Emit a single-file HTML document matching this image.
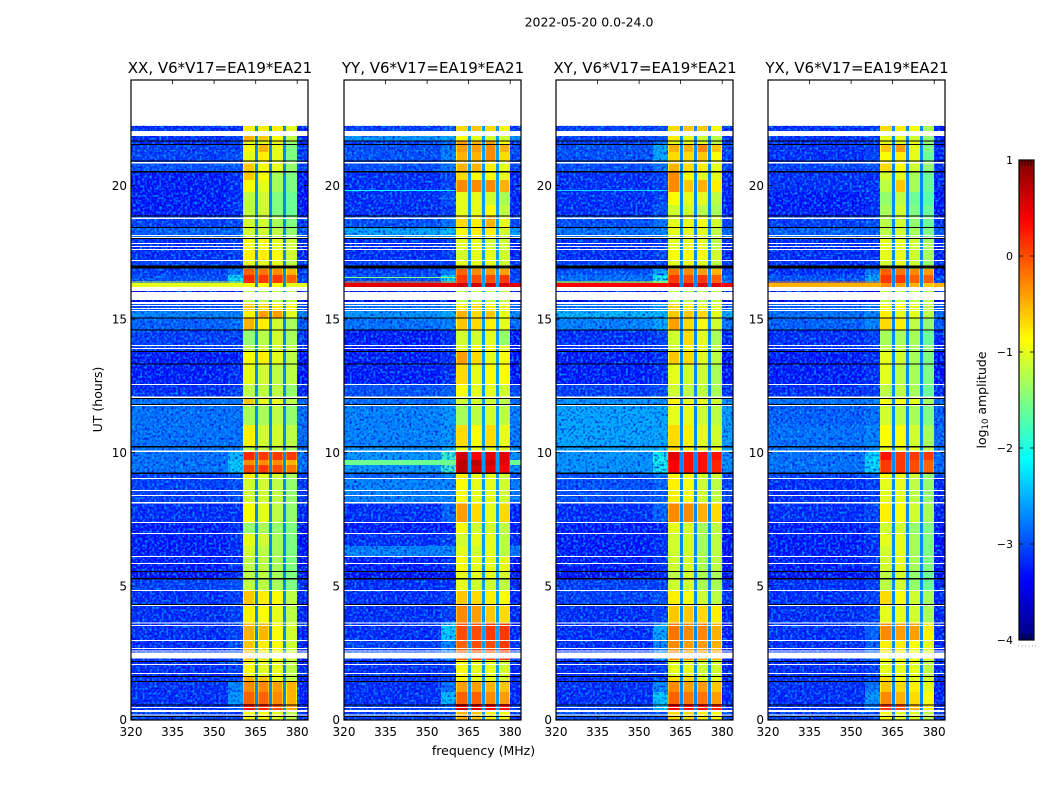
<!DOCTYPE html>
<html>
<head>
<meta charset="utf-8">
<title>2022-05-20 0.0-24.0</title>
<style>
html,body{margin:0;padding:0;background:#fff;}
#chart{display:block;width:1050px;height:800px;background:#fff;}
text{font-family:"DejaVu Sans","Liberation Sans",sans-serif;fill:#000;}
</style>
</head>
<body>
<svg id="chart" xmlns="http://www.w3.org/2000/svg" width="1050" height="800" viewBox="0 0 1050 800">
<defs>
<filter id="grainLight" x="0" y="0" width="100%" height="100%" color-interpolation-filters="sRGB">
<feTurbulence type="fractalNoise" baseFrequency="0.42" numOctaves="1" seed="4"/>
<feColorMatrix type="matrix" values="0 0 0 0 0  0 0 0 0 0.72  0 0 0 0 1  3.2 0 0 0 -1.45"/>
</filter>
<filter id="grainDark" x="0" y="0" width="100%" height="100%" color-interpolation-filters="sRGB">
<feTurbulence type="fractalNoise" baseFrequency="0.42" numOctaves="1" seed="11"/>
<feColorMatrix type="matrix" values="0 0 0 0 0  0 0 0 0 0  0 0 0 0 0.85  3.2 0 0 0 -1.45"/>
</filter>
<linearGradient id="colorbarGradient" x1="0" y1="1" x2="0" y2="0"></linearGradient>
</defs>
<text x="589" y="26.5" font-size="12.5" text-anchor="middle">2022-05-20 0.0-24.0</text>
<text x="483.5" y="755" font-size="12.5" text-anchor="middle">frequency (MHz)</text>
<text x="102" y="399.5" font-size="12.5" text-anchor="middle" transform="rotate(-90 102 399.5)">UT (hours)</text>
<g id="panels"></g>
<g id="colorbar"></g>
<text x="986" y="400" font-size="12.5" text-anchor="middle" transform="rotate(-90 986 400)">log<tspan font-size="8.5" dy="2">10</tspan><tspan dy="-2"> amplitude</tspan></text>
</svg>
<script>
// Time-block edges in UT hours, top to bottom
const blockEdges = [22.23,21.85,21.67,21.52,21.25,20.92,20.54,20.21,19.76,19.27,18.86,18.45,18.03,17.58,17.17,16.87,16.65,16.35,16.20,15.64,15.34,15.04,14.59,14.03,13.76,13.31,12.57,12.04,11.78,11.03,10.24,10.02,9.72,9.53,9.23,9.01,8.11,7.40,6.95,6.50,6.12,5.56,5.26,4.85,4.29,3.61,2.98,2.23,1.63,1.44,1.03,0.58,0.28,0];
// log10 amplitude per block: [background, near-band ramp, band1, band2, band3, band4]
const xxLevels = [[-3,-3,-.8,-.8,-.8,-1],[-3,-2.9,-.5,-.6,-.9,-1.2],[-3,-2.9,-1,-1,-1,-1.4],[-2.9,-2.9,-.9,-.5,-1,-1.5],[-2.9,-2.8,-1,-.8,-1,-1.5],[-2.8,-2.8,-.6,-.9,-1,-1.4],[-3.1,-3,-.6,-.9,-1.3,-1.5],[-3.1,-3,-.9,-1,-1.3,-1.5],[-3.1,-3,-1.2,-1.1,-1.5,-1.6],[-3.1,-3,-1.2,-1.1,-1.5,-1.6],[-2.9,-2.8,-1.1,-1.1,-1.3,-1.5],[-2.7,-2.7,-1.1,-1.1,-1.2,-1.4],[-3,-2.9,-.9,-.9,-1,-1.1],[-3,-2.9,-.8,-.8,-.9,-1.1],[-2.9,-2.9,-1,-1,-1,-1.2],[-2.9,-2.6,-.1,-.2,-.3,-.5],[-2.8,-2,.2,.1,.1,-.1],[-1,-1,-.9,-.9,-.9,-1],[-3.3,-3.3,-1.2,-1.2,-1.2,-1.2],[-2.8,-2.7,-.6,-.7,-.8,-.9],[-2.5,-2.5,-.8,-.4,-.4,-1],[-2.7,-2.6,-.5,-.8,-1.1,-1.3],[-2.9,-2.9,-1.4,-1.2,-1.1,-1.3],[-2.9,-2.9,-1.2,-1.1,-1.1,-1.2],[-3.1,-3.1,-.9,-.8,-1,-1.2],[-3.1,-3,-1,-1.1,-1.2,-1.2],[-3,-2.9,-1.2,-1.2,-1.2,-1.4],[-2.6,-2.6,-.6,-1,-1,-1.2],[-2.6,-2.6,-1.3,-1.3,-1.2,-1.4],[-2.6,-2.6,-.8,-1.1,-1.1,-1.2],[-2.6,-2.5,-1.2,-1.2,-1.2,-1.3],[-2.6,-2.2,.2,.1,.1,.1],[-2.6,-2.1,-.3,-.3,-.3,-.5],[-2.6,-2.1,.05,.1,0,-.2],[-2.9,-2.7,-.8,-1,-1.1,-1.3],[-2.9,-2.8,-1.1,-1.1,-1.2,-1.4],[-3,-3,-.9,-1,-1.2,-1.4],[-3.1,-3,-1.4,-1.3,-1.4,-1.5],[-3.1,-3,-1,-1.1,-1.3,-1.5],[-3.1,-3,-1.1,-1.2,-1.3,-1.5],[-3.1,-3,-1.2,-1.2,-1.3,-1.5],[-3.2,-3,-1.2,-1.2,-1.3,-1.5],[-2.9,-2.8,-1.2,-1.2,-1.3,-1.5],[-3,-2.9,-.6,-.8,-.9,-1.2],[-3,-2.9,-.8,-.9,-1,-1.2],[-3,-2.9,-.5,-.5,-.9,-1.1],[-3,-2.8,-.6,-.8,-.9,-1.1],[-3,-2.9,-.9,-1,-1,-1.2],[-3,-2.9,-.5,-.6,-1,-1.2],[-3,-2.5,-.3,-.3,-.4,-.5],[-3,-2.4,-.1,-.1,-.3,-.5],[-3,-2.7,.3,.2,0,-.4],[-2.9,-2.9,-.9,-.9,-1,-1.2]];
const yyLevels = [[-2.9,-2.8,-.7,-.6,-.7,-.9],[-2.4,-2.3,-.9,-1,-1.1,-1.1],[-2.9,-2.7,-.4,-.5,-.4,-.9],[-2.8,-2.6,-.4,-.4,-.3,-.5],[-2.8,-2.5,-.5,-.5,-.3,-.7],[-2.8,-2.6,-.5,-.5,-.8,-1],[-3,-2.9,-.7,-.9,-.9,-1],[-3,-2.9,-.3,-.3,-.3,-.5],[-3,-2.8,-1,-1,-1.1,-1.3],[-3,-2.9,-1,-1,-.9,-1.2],[-2.8,-2.6,-.7,-.8,-.5,-1],[-2.3,-2.2,-.9,-.8,-.8,-1.1],[-3,-2.9,-1,-1,-1.1,-1.1],[-3,-2.9,-1.1,-1,-1,-1.1],[-2.9,-2.9,-1,-1,-1,-1.1],[-2.9,-2.5,-.1,-.3,-.4,-.4],[-2.8,-2,.1,0,0,.1],[.5,.5,.6,.6,.6,.6],[-3.3,-3.3,-1.2,-1.2,-1.2,-1.2],[-2.6,-2.5,-.8,-.7,-.8,-.9],[-2.4,-2.3,-.5,-.7,-.6,-1],[-2.6,-2.5,-.6,-.7,-.8,-1],[-3.1,-3,-1.1,-1.1,-1,-1.4],[-3.1,-3,-1,-.9,-.9,-1],[-3.1,-3,-.4,-.7,-1,-.9],[-3.1,-3,-.7,-1,-.9,-.9],[-2.8,-2.7,-.9,-1,-1,-1.1],[-2.6,-2.5,-1.1,-1.1,-1.1,-1.2],[-2.5,-2.4,-1.3,-1.2,-1.1,-1.2],[-2.5,-2.4,-.7,-.9,-.7,-1],[-2.4,-2.2,-1,-1,-1,-1],[-2.4,-1.6,.6,.4,.5,.5],[-1.6,-1.3,.7,.7,.6,.5],[-2.4,-1.6,.7,.6,.5,.4],[-2.7,-2.5,-.8,-1,-1,-1.1],[-2.5,-2.5,-.9,-1,-1,-1.1],[-3,-2.7,-.4,-.7,-1,-.7],[-3.1,-3.1,-.9,-1.1,-1.1,-1.2],[-3,-2.9,-1.1,-1,-1,-1.2],[-2.5,-2.5,-1,-1.1,-1,-1.2],[-3.1,-3,-.9,-1,-1,-1],[-3.2,-3.1,-1,-1,-1,-1.1],[-3,-3,-1,-1.1,-1.1,-1.2],[-3,-2.9,-.6,-.7,-.8,-.9],[-3,-2.9,-.3,-.4,-.6,-.7],[-3,-2.1,0,0,.1,.1],[-2.9,-2.5,-.1,0,0,.1],[-3,-2.9,-.9,-1,-1,-1.1],[-3,-2.9,-.9,-1,-1,-1.1],[-3,-2.6,-.4,-.4,-.5,-.6],[-3,-2.2,-.1,-.1,-.3,-.4],[-2.9,-2.7,.6,.5,.4,.3],[-2.9,-2.8,-.5,-.6,-.8,-.9]];
const xyLevels = [[-2.9,-2.8,-.7,-.6,-.6,-.9],[-2.9,-2.8,-.8,-1,-1.1,-1.2],[-2.9,-2.6,-1,-1,-1,-1.2],[-2.8,-2.3,-.5,-.5,-.3,-.6],[-2.8,-2.3,-.7,-.7,-.6,-.9],[-2.8,-2.6,-.5,-.7,-.8,-1],[-3,-2.9,-.3,-.9,-1,-1],[-3,-2.9,-.3,-.6,-.5,-.8],[-3,-2.9,-.9,-1,-1,-1.2],[-3,-2.8,-1.1,-1.1,-1.2,-1.3],[-2.8,-2.6,-1,-1,-.9,-1.1],[-2.6,-2.5,-1,-1,-1,-1.2],[-3,-2.9,-1,-1,-1,-1.2],[-3,-2.9,-.9,-.9,-.9,-1.1],[-2.9,-2.9,-1,-1,-1,-1.2],[-2.8,-2.3,-.2,-.3,-.4,-.5],[-2.6,-1.8,.1,0,.1,-.1],[.4,.4,.5,.5,.5,.5],[-3.3,-3.3,-1.2,-1.2,-1.2,-1.2],[-2.6,-2.3,-.7,-.8,-1,-1],[-2.2,-2.2,-.6,-.6,-.7,-1],[-2.5,-2.3,-.4,-.7,-.9,-1.1],[-3,-2.9,-1.1,-.7,-1,-1.3],[-3,-2.9,-1.1,-.9,-1,-1.2],[-3.1,-3,-.6,-.7,-1,-1.2],[-3.1,-3,-1,-1.1,-1.1,-1.3],[-2.9,-2.8,-1.1,-1.2,-1.2,-1.3],[-2.4,-2.4,-.8,-1,-1,-1.1],[-2.3,-2.3,-1,-1,-1.1,-1.2],[-2.3,-2.3,-.7,-.8,-1,-1.1],[-2.3,-2.2,-.7,-.8,-1,-1],[-2.4,-1.8,.5,.3,.3,.3],[-2.4,-1.8,.4,.3,.3,.2],[-2.4,-1.8,.4,.3,.3,.2],[-2.8,-2.5,-.8,-.9,-1.1,-1.1],[-2.8,-2.7,-.8,-.9,-1.1,-1.2],[-3,-2.7,-.3,-.3,-.5,-.7],[-3.1,-3.1,-1,-1.1,-1.3,-1.2],[-3.1,-3,-1.1,-1.1,-1.3,-1.2],[-3.1,-3,-1.1,-1.1,-1.3,-1.2],[-3.1,-3,-1.1,-1.1,-1.3,-1.2],[-3.2,-3.1,-1.2,-1.1,-1.3,-1.3],[-2.9,-2.9,-1.1,-1.1,-1.3,-1.3],[-2.9,-2.8,-.8,-.9,-1.1,-1.2],[-3,-2.9,-.6,-.6,-.7,-.8],[-3,-2.3,-.2,-.3,-.3,-.5],[-3,-2.5,-.3,-.4,-.4,-.5],[-3,-2.9,-1,-1,-1.1,-1.1],[-3,-2.9,-.7,-.7,-1,-1],[-3,-2.5,-.3,-.4,-.4,-.6],[-3,-2.1,-.1,-.2,-.2,-.4],[-2.9,-2.1,.4,.3,.3,.2],[-2.8,-2.8,-.7,-.7,-.8,-.9]];
const yxLevels = [[-3,-2.9,-.7,-.8,-.9,-1.3],[-3,-2.9,-1,-1,-1.1,-1.4],[-3,-2.9,-1,-1,-1,-1.4],[-3,-2.9,-.6,-.4,-1,-1.5],[-3,-2.9,-.9,-.8,-1,-1.6],[-2.9,-2.8,-.7,-.9,-1.1,-1.4],[-3,-3,-1.1,-1,-1.3,-1.6],[-3,-3,-1.2,-.6,-1.3,-1.6],[-3.1,-3,-1.4,-1.2,-1.6,-1.7],[-3.1,-3,-1.3,-1.1,-1.5,-1.6],[-2.9,-2.8,-1.2,-1.1,-1.4,-1.6],[-2.7,-2.7,-1.2,-1.1,-1.3,-1.5],[-3,-3,-1,-1,-1.1,-1.3],[-3,-3,-1,-1,-1.1,-1.3],[-3,-2.9,-1.1,-1,-1.1,-1.4],[-3,-2.6,-.1,-.2,-.3,-.4],[-2.8,-2.3,.1,.1,-.1,-.1],[-.5,-.5,-.3,-.4,-.5,-.6],[-3.3,-3.3,-1.2,-1.2,-1.2,-1.2],[-2.7,-2.5,-.9,-.9,-1,-1.2],[-2.6,-2.5,-.8,-1,-1,-1.2],[-2.7,-2.5,-.7,-.8,-1.2,-1.4],[-3,-2.9,-1.3,-1.3,-1.3,-1.6],[-3,-2.9,-1.2,-1.2,-1.3,-1.4],[-3.1,-3,-1,-1.1,-1.3,-1.5],[-3.1,-3,-1,-1.2,-1.3,-1.5],[-3,-2.9,-1.2,-1.2,-1.3,-1.6],[-2.6,-2.5,-.9,-.9,-1,-1.3],[-2.7,-2.6,-1.1,-1.2,-1.3,-1.5],[-2.6,-2.5,-.9,-.9,-1.1,-1.3],[-2.6,-2.5,-1,-1,-1,-1.2],[-2.6,-2,.3,.1,.1,.1],[-2.6,-2,.1,.1,0,-.1],[-2.6,-2,.1,.1,0,-.1],[-2.9,-2.7,-.9,-1,-1.1,-1.4],[-3,-2.9,-1,-1,-1.2,-1.4],[-3,-2.9,-.8,-.9,-1.1,-1.3],[-3.1,-3,-1.1,-1.1,-1.4,-1.5],[-3.1,-3,-1,-1,-1.3,-1.5],[-3.1,-3,-1.1,-1,-1.3,-1.5],[-3.1,-3,-1.1,-1,-1.3,-1.5],[-3.2,-3.1,-1.2,-1.1,-1.4,-1.6],[-3,-2.9,-1.2,-1.1,-1.4,-1.6],[-3,-2.9,-.7,-.9,-1.1,-1.3],[-3,-2.9,-1,-1,-1.1,-1.3],[-3,-2.7,-.3,-.4,-.4,-.8],[-3,-2.7,-.8,-.8,-.9,-1],[-3,-2.9,-1,-1,-1,-1.2],[-3,-2.9,-.7,-.9,-1,-1.1],[-3,-2.6,-.6,-.7,-.8,-1],[-3,-2.4,-.3,-.5,-.7,-.9],[-3,-2.6,.1,0,-.5,-.8],[-2.9,-2.9,-.9,-1,-1,-1.2]];
// Narrow interference rows: [UT hours, log10 amplitude]
const xxLines = [[16.40,-1.1]];
const yyLines = [[16.58,-1.5],[16.40,-.2],[19.83,-2.1]];
const xyLines = [[16.40,-.9],[19.83,-2.3]];
const yxLines = [[16.40,-.2]];
// Gaps between the four bands, log10 amplitude
const xxGap = -2.7;
const yyGap = -2.6;
const xyGap = -2.7;
const yxGap = -2.7;
// Flagged time ranges [from, to] in UT hours
const whiteFlags = [[22.04,21.85],[20.88,20.82],[18.80,18.75],[18.15,18.10],[18.07,18.03],[17.85,17.81],[17.73,17.70],[17.62,17.58],[17.21,17.17],[16.20,16.05],[16.01,15.71],[15.64,15.56],[15.52,15.49],[15.41,15.37],[15.34,15.30],[14.03,13.99],[13.91,13.88],[12.56,12.53],[12.09,12.05],[11.78,11.74],[10.07,10.02],[9.04,9.01],[8.60,8.56],[8.41,8.37],[8.15,8.09],[7.40,7.36],[6.98,6.95],[6.12,6.09],[5.86,5.82],[4.85,4.81],[4.29,4.25],[3.63,3.60],[3.54,3.50],[2.98,2.94],[2.68,2.64],[2.58,2.55],[2.51,2.28],[2.08,2.04],[1.74,1.70],[0.47,0.43],[0.36,0.28],[0.19,0.15]];
const blackFlags = [[21.69,21.65],[21.55,21.52],[20.94,20.90],[20.54,20.49],[18.88,18.84],[18.45,18.41],[18.03,17.99],[17.0,16.89],[15.06,15.02],[14.61,14.57],[13.80,13.77],[13.33,13.30],[12.04,12.0],[11.82,11.78],[10.24,10.19],[9.25,9.19],[5.56,5.52],[5.30,5.24],[4.33,4.29],[2.19,2.15],[1.63,1.59],[1.44,1.40],[0.56,0.52],[0.13,0.09]];
// Frequency layout in MHz
const backgroundRange = [320,355];
const rampRange = [355,360.3];
const bandRanges = [[360.3,364.8],[365.9,369.9],[371,374.9],[376,380]];
const rightRange = [380,384];
const polarizations = ["XX","YY","XY","YX"];
const panelTitles = ["XX, V6*V17=EA19*EA21","YY, V6*V17=EA19*EA21","XY, V6*V17=EA19*EA21","YX, V6*V17=EA19*EA21"];
const freqTicks = [320,335,350,365,380];
const timeTicks = [0,5,10,15,20];
const colorTicks = [1,0,-1,-2,-3,-4];

const panelLevels = [xxLevels,yyLevels,xyLevels,yxLevels];
const panelLines = [xxLines,yyLines,xyLines,yxLines];
const panelGaps = [xxGap,yyGap,xyGap,yxGap];
const panelLefts = [131,344,556,768];
const NS = "http://www.w3.org/2000/svg";
const plotW = 177, axisTop = 80, axisBottom = 720;
const colorMin = -4, colorMax = 1;
const backgroundShift = -0.22;

function clip(v){return Math.max(0,Math.min(1,v));}
function jet(v){
  const t = clip((v-colorMin)/(colorMax-colorMin));
  const r = clip(Math.min(4*t-1.5,-4*t+4.5));
  const g = clip(Math.min(4*t-0.5,-4*t+3.5));
  const b = clip(Math.min(4*t+0.5,-4*t+2.5));
  return "rgb("+Math.round(r*255)+","+Math.round(g*255)+","+Math.round(b*255)+")";
}
function yOf(h){return 719.5-26.7*h;}
function make(tag,attrs,parent){
  const el = document.createElementNS(NS,tag);
  for(const k in attrs){el.setAttribute(k,attrs[k]);}
  parent.appendChild(el);
  return el;
}
function xOf(left,f){return left+(f-320)*2.77;}

const panelsRoot = document.getElementById("panels");
polarizations.forEach(function(pol,p){
  const left = panelLefts[p];
  const g = make("g",{},panelsRoot);
  
  
  const cells = make("g",{"shape-rendering":"crispEdges"},g);
  
  
  function cell(f0,f1,h0,h1,v,target){
    const x0 = Math.round(xOf(left,f0)), x1 = Math.round(Math.min(xOf(left,f1),left+plotW));
    const y0 = yOf(h0), y1 = Math.min(yOf(h1),axisBottom);
    const r = make("rect",{x:x0,y:y0.toFixed(2),width:x1-x0,height:(y1-y0).toFixed(2),fill:jet(v)},target);
    
    
  }
  const rows = panelLevels[p];
  rows.forEach(function(row,i){
    const h0 = blockEdges[i], h1 = blockEdges[i+1];
    cell(backgroundRange[0],backgroundRange[1],h0,h1,row[0]+backgroundShift,cells);
    cell(rampRange[0],rampRange[1],h0,h1,row[1]+backgroundShift,cells);
    cell(rampRange[1],rightRange[0],h0,h1,panelGaps[p],cells);
    bandRanges.forEach(function(band,b){
      const v = row[2+b];
      cell(band[0],band[1],h0,h1,v>-0.7?v-0.3:v-0.05,cells);
      cell(band[0]+0.35,band[1]-0.35,h0,h1,v,cells);
    });
    cell(rightRange[0],rightRange[1],h0,h1,row[0]+backgroundShift-0.05,cells);
  });
  const top = yOf(blockEdges[0]);
  const rampEnd = xOf(left,rampRange[1]);
  [["grainDark",0.8],["grainLight",0.85]].forEach(function(gr){
    const a = make("rect",{x:left,y:top,width:(rampEnd-left).toFixed(1),height:(axisBottom-top).toFixed(1),fill:"#fff",filter:"url(#"+gr[0]+")",opacity:gr[1]},g);
    
    
    const rx = xOf(left,rightRange[0]);
    const b = make("rect",{x:rx.toFixed(1),y:top,width:(left+plotW-rx).toFixed(1),height:(axisBottom-top).toFixed(1),fill:"#fff",filter:"url(#"+gr[0]+")",opacity:gr[1]},g);
    
    
  });
  const overlay = make("g",{"shape-rendering":"crispEdges"},g);
  
  
  rows.forEach(function(row,i){
    if(row[0] > -2){
      cell(backgroundRange[0],rampRange[1],blockEdges[i],blockEdges[i+1],row[0],overlay);
      cell(rightRange[0],rightRange[1],blockEdges[i],blockEdges[i+1],row[0],overlay);
    }
  });
  panelLines[p].forEach(function(line){
    const r = make("rect",{x:left,y:yOf(line[0]).toFixed(2),width:(rampEnd-left).toFixed(1),height:1,fill:jet(line[1])},overlay);
    
    
  });
  whiteFlags.forEach(function(f){
    const r = make("rect",{x:left,y:yOf(f[0]).toFixed(2),width:plotW,height:Math.max(1,yOf(f[1])-yOf(f[0])).toFixed(2),fill:"#fff"},overlay);
    
    
  });
  blackFlags.forEach(function(f){
    const r = make("rect",{x:left,y:yOf(f[0]).toFixed(2),width:plotW,height:Math.max(1,yOf(f[1])-yOf(f[0])).toFixed(2),fill:"#000"},overlay);
    
    
  });
  const frame = make("rect",{x:left,y:axisTop,width:plotW,height:axisBottom-axisTop,fill:"none",stroke:"#000","stroke-width":1.2},g);
  
  
  const title = make("text",{x:left+plotW/2+0.5,y:73,"font-size":"15","text-anchor":"middle"},g);
  title.textContent = panelTitles[p];
  
  
  freqTicks.forEach(function(f){
    const x = xOf(left,f);
    [[axisBottom,axisBottom-4],[axisTop,axisTop+4]].forEach(function(s){
      const t = make("line",{x1:x.toFixed(1),x2:x.toFixed(1),y1:s[0],y2:s[1],stroke:"#000","stroke-width":0.8},g);
      
      
    });
    const l = make("text",{x:x.toFixed(1),y:736,"font-size":"12","text-anchor":"middle"},g);
    l.textContent = String(f);
    
    
  });
  timeTicks.forEach(function(h){
    const y = yOf(h);
    [[left,left+4],[left+plotW,left+plotW-4]].forEach(function(s){
      const t = make("line",{x1:s[0],x2:s[1],y1:y.toFixed(1),y2:y.toFixed(1),stroke:"#000","stroke-width":0.8},g);
      
      
    });
    const l = make("text",{x:left-4,y:(y+4.5).toFixed(1),"font-size":"12","text-anchor":"end"},g);
    l.textContent = String(h);
    
    
  });
});

// Colorbar
const cbX = 1019, cbW = 15, cbTop = 160, cbBottom = 640;
const grad = document.getElementById("colorbarGradient");
const gradSteps = [0,0.11,0.125,0.25,0.375,0.5,0.625,0.75,0.875,0.89,1];
gradSteps.forEach(function(t){
  make("stop",{offset:t,"stop-color":jet(colorMin+t*(colorMax-colorMin))},grad);
});
const cbRoot = document.getElementById("colorbar");
const cbFill = make("rect",{x:cbX,y:cbTop,width:cbW,height:cbBottom-cbTop,fill:"url(#colorbarGradient)"},cbRoot);


const cbFrame = make("rect",{x:cbX,y:cbTop,width:cbW,height:cbBottom-cbTop,fill:"none",stroke:"#000","stroke-width":1.2},cbRoot);


function cbY(v){return cbBottom-(v-colorMin)/(colorMax-colorMin)*(cbBottom-cbTop);}
colorTicks.forEach(function(v){
  const y = cbY(v);
  [[cbX,cbX+4],[cbX+cbW,cbX+cbW-4]].forEach(function(s){
    const t = make("line",{x1:s[0],x2:s[1],y1:y,y2:y,stroke:"#000","stroke-width":0.8},cbRoot);
    
    
  });
  const l = make("text",{x:1013,y:y+4,"font-size":"11","text-anchor":"end"},cbRoot);
  l.textContent = v<0 ? "\u2212"+Math.abs(v) : String(v);
  
  
});
[3,6,9,12].forEach(function(dx){
  const a = make("line",{x1:cbX+dx,x2:cbX+dx,y1:cbTop,y2:cbTop+6,stroke:"#000","stroke-width":0.7},cbRoot);
  
  
  const b = make("line",{x1:cbX+dx,x2:cbX+dx,y1:cbBottom,y2:cbBottom-6,stroke:"#000","stroke-width":0.7},cbRoot);
  
  
});
[0,3.5,7,10.5,14,17].forEach(function(dx){
  const d = make("rect",{x:1018+dx,y:645.5,width:1,height:1,fill:"#999"},cbRoot);
  
  
});
</script>
</body>
</html>
